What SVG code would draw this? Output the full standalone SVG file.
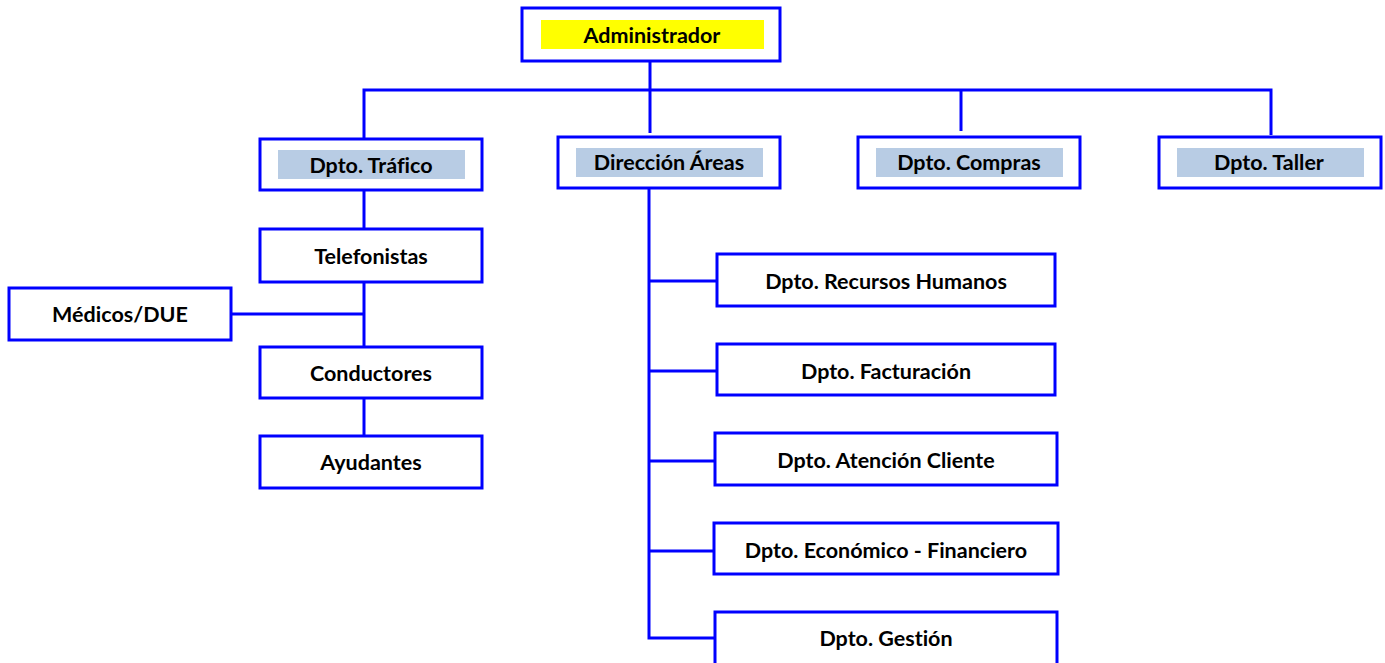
<svg xmlns="http://www.w3.org/2000/svg" width="1385" height="663" viewBox="0 0 1385 663">
<style>
.box{fill:#fff;stroke:#0000ff;stroke-width:3}
.hl{fill:#b8cce4}
.hy{fill:#ffff00}
.ln{fill:none;stroke:#0000ff;stroke-width:3}
text{font-family:Lato,"Liberation Sans",sans-serif;font-weight:bold;font-size:21.5px;fill:#000;text-anchor:middle;font-variant-ligatures:none}
</style>
<rect width="1385" height="663" fill="#fff"/>
<g id="connectors">
<path class="ln" d="M650 61V133"/>
<path class="ln" d="M364 139V90H1271V135"/>
<path class="ln" d="M961 90V131"/>
<path class="ln" d="M364 190V229"/>
<path class="ln" d="M364 282V347"/>
<path class="ln" d="M231 314H364"/>
<path class="ln" d="M364 398V436"/>
<path class="ln" d="M649 188V638H715"/>
<path class="ln" d="M649 281H717"/>
<path class="ln" d="M649 371H717"/>
<path class="ln" d="M649 461H715"/>
<path class="ln" d="M649 551H714"/>
</g>
<g id="admin"><rect class="box" x="522" y="8" width="258" height="53"/><rect class="hy" x="541" y="20" width="223" height="29"/><text x="652" y="43">Administrador</text></g>
<g id="trafico"><rect class="box" x="260" y="139" width="222" height="51"/><rect class="hl" x="278" y="150" width="187" height="29"/><text x="371" y="173">Dpto. Tráfico</text></g>
<g id="direccion"><rect class="box" x="558" y="137" width="222" height="51"/><rect class="hl" x="576" y="148" width="187" height="29"/><text x="669" y="170">Dirección Áreas</text></g>
<g id="compras"><rect class="box" x="858" y="137" width="222" height="51"/><rect class="hl" x="876" y="148" width="187" height="29"/><text x="969" y="170">Dpto. Compras</text></g>
<g id="taller"><rect class="box" x="1159" y="137" width="222" height="51"/><rect class="hl" x="1177" y="148" width="187" height="29"/><text x="1269" y="170">Dpto. Taller</text></g>
<g id="telefonistas"><rect class="box" x="260" y="229" width="222" height="53"/><text x="371" y="264">Telefonistas</text></g>
<g id="medicos"><rect class="box" x="9" y="288" width="222" height="52"/><text x="120" y="322">Médicos/DUE</text></g>
<g id="conductores"><rect class="box" x="260" y="347" width="222" height="51"/><text x="371" y="381">Conductores</text></g>
<g id="ayudantes"><rect class="box" x="260" y="436" width="222" height="52"/><text x="371" y="470">Ayudantes</text></g>
<g id="rrhh"><rect class="box" x="717" y="254" width="338" height="52"/><text x="886" y="289">Dpto. Recursos Humanos</text></g>
<g id="facturacion"><rect class="box" x="717" y="344" width="338" height="51"/><text x="886" y="379">Dpto. Facturación</text></g>
<g id="atencion"><rect class="box" x="715" y="433" width="342" height="52"/><text x="886" y="468">Dpto. Atención Cliente</text></g>
<g id="economico"><rect class="box" x="714" y="523" width="344" height="51"/><text x="886" y="558">Dpto. Económico - Financiero</text></g>
<g id="gestion"><rect class="box" x="715" y="612" width="342" height="53"/><text x="886" y="646">Dpto. Gestión</text></g>
</svg>
